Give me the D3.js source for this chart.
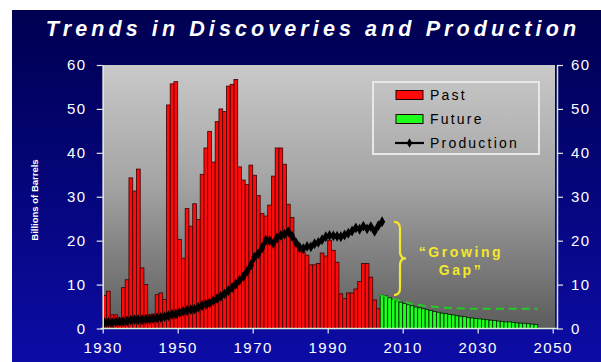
<!DOCTYPE html>
<html>
<head>
<meta charset="utf-8">
<script src="https://cdn.jsdelivr.net/npm/d3@7"></script>
<style>
  html, body { margin: 0; padding: 0; background: #ffffff; }
  svg { display: block; }
</style>
</head>
<body>
<svg id="chart" width="601" height="362"></svg>
<script>
// ---- Data (billions of barrels per year) ----
const pastStart = 1930;
const pastDiscoveries = [
  7.5, 8.5, 3.1, 3.1, 2.4, 9.3, 11.1, 34.3, 31.3, 36.3,      // 1930-1939
  13.8, 10.0, 3.1, 3.3, 7.7, 8.1, 6.6, 50.9, 55.7, 56.2,     // 1940-1949
  20.3, 16.0, 27.3, 23.3, 28.4, 24.8, 35.1, 41.1, 44.9, 37.9, // 1950-1959
  47.1, 50.0, 49.4, 55.2, 55.6, 56.7, 36.8, 33.8, 32.8, 37.2, // 1960-1969
  34.9, 30.3, 26.2, 25.6, 28.1, 34.7, 41.1, 41.1, 37.4, 28.3, // 1970-1979
  25.3, 20.1, 17.6, 17.4, 16.7, 14.5, 14.5, 14.8, 17.2, 16.5, // 1980-1989
  20.1, 17.8, 15.1, 7.9, 6.8, 8.1, 8.1, 9.0, 10.7, 14.8,      // 1990-1999
  14.8, 11.7, 6.5, 4.5                                        // 2000-2003
];
const futureStart = 2004;
const futureDiscoveries = [
  7.6, 7.4, 7.0, 6.6, 6.3, 6.0, 5.7, 5.4, 5.2, 4.9,  // 2004-2013
  4.7, 4.5, 4.3, 4.1, 3.9, 3.7, 3.5, 3.4, 3.2, 3.1,  // 2014-2023
  2.9, 2.8, 2.7, 2.5, 2.4, 2.3, 2.2, 2.1, 2.0, 1.9,  // 2024-2033
  1.8, 1.7, 1.6, 1.5, 1.5, 1.4, 1.3, 1.2, 1.2, 1.1,  // 2034-2043
  1.0, 0.9                                           // 2044-2045
];
const productionStart = 1930;
const production = [
  1.3, 1.4, 1.3, 1.5, 1.5, 1.6, 1.7, 1.9, 2.0, 2.0,       // 1930-1939
  2.0, 2.1, 2.1, 2.2, 2.4, 2.5, 2.7, 2.9, 3.2, 3.3,       // 1940-1949
  3.6, 3.9, 4.1, 4.3, 4.4, 4.8, 5.2, 5.5, 5.8, 6.3,       // 1950-1959
  6.8, 7.3, 7.9, 8.6, 9.3, 10.1, 11.0, 11.8, 13.0, 14.4,  // 1960-1969
  16.3, 17.0, 18.4, 20.1, 20.0, 19.4, 20.6, 21.2, 21.5, 22.0, // 1970-1979
  21.0, 19.6, 18.5, 18.2, 18.7, 18.6, 19.3, 19.6, 20.2, 20.9, // 1980-1989
  21.2, 21.1, 21.0, 20.9, 21.3, 21.7, 22.2, 22.9, 22.6, 23.3, // 1990-1999
  22.7, 23.2, 22.1, 23.4, 24.3                                // 2000-2004
];
// Projected production outlook (dashed)
const outlookYears = [2004, 2008, 2012, 2016, 2020, 2024, 2028, 2046];
const outlookValues = [7.6, 6.6, 5.7, 5.1, 4.8, 4.6, 4.5, 4.5];

const yTicks = [0, 10, 20, 30, 40, 50, 60];
const xTicks = [1930, 1950, 1970, 1990, 2010, 2030, 2050];
const legendItems = ["Past", "Future", "Production"];

// ---- Layout ----
const svg = d3.select("#chart");
const W = 601, H = 362;
const plot = { left: 102.7, right: 555, top: 65, bottom: 328.5 };

const x = d3.scaleLinear().domain([1930, 2050]).range([102.7, 552.7]);
const y = d3.scaleLinear().domain([0, 60]).range([plot.bottom, plot.top]);

const defs = svg.append("defs");
const bgGrad = defs.append("linearGradient").attr("id", "bgGrad")
  .attr("x1", 0).attr("y1", 0).attr("x2", 0).attr("y2", 1);
bgGrad.append("stop").attr("offset", "0%").attr("stop-color", "#000052");
bgGrad.append("stop").attr("offset", "12%").attr("stop-color", "#00005a");
bgGrad.append("stop").attr("offset", "100%").attr("stop-color", "#0c0ca6");

const plotGrad = defs.append("linearGradient").attr("id", "plotGrad")
  .attr("x1", 0).attr("y1", 0).attr("x2", 0).attr("y2", 1);
plotGrad.append("stop").attr("offset", "0%").attr("stop-color", "#c9c9c9");
plotGrad.append("stop").attr("offset", "45%").attr("stop-color", "#a4a4a4");
plotGrad.append("stop").attr("offset", "100%").attr("stop-color", "#5c5c5c");

// Blue slide background with white margin at top/left
svg.append("rect").attr("x", 12).attr("y", 10).attr("width", W - 12).attr("height", H - 10)
  .attr("fill", "url(#bgGrad)");

// Title
svg.append("text")
  .attr("x", 313).attr("y", 36)
  .attr("text-anchor", "middle")
  .attr("fill", "#ffffff")
  .attr("font-family", "'Liberation Sans', Arial, sans-serif")
  .attr("font-size", 21.5).attr("font-weight", "bold").attr("font-style", "italic")
  .attr("letter-spacing", 4.1)
  .text("Trends in Discoveries and Production");

// Plot area
svg.append("rect")
  .attr("x", plot.left).attr("y", plot.top)
  .attr("width", plot.right - plot.left).attr("height", plot.bottom - plot.top)
  .attr("fill", "url(#plotGrad)");

// Past discovery bars
svg.append("g").selectAll("rect")
  .data(pastDiscoveries)
  .join("rect")
  .attr("x", (d, i) => x(pastStart + i))
  .attr("width", (d, i) => x(pastStart + i + 1) - x(pastStart + i))
  .attr("y", d => y(d))
  .attr("height", d => y(0) - y(d))
  .attr("fill", "#ff0a0a")
  .attr("stroke", "#3a0000")
  .attr("stroke-width", 0.8);

// Future discovery bars
svg.append("g").selectAll("rect")
  .data(futureDiscoveries)
  .join("rect")
  .attr("x", (d, i) => x(futureStart + i))
  .attr("width", (d, i) => x(futureStart + i + 1) - x(futureStart + i))
  .attr("y", d => y(d))
  .attr("height", d => y(0) - y(d))
  .attr("fill", "#1cff1c")
  .attr("stroke", "#002000")
  .attr("stroke-width", 0.8);

// Outlook dashed line
svg.append("path")
  .datum(outlookYears.map((yr, i) => [yr, outlookValues[i]]))
  .attr("fill", "none")
  .attr("stroke", "#22cc22")
  .attr("stroke-width", 2)
  .attr("stroke-dasharray", "8,5")
  .attr("d", d3.line().x(d => x(d[0])).y(d => y(d[1])));

// Production line with diamond markers
const prodPts = production.map((v, i) => [productionStart + i + 0.5, v]);
svg.append("path")
  .datum(prodPts)
  .attr("fill", "none")
  .attr("stroke", "#000000")
  .attr("stroke-width", 4)
  .attr("stroke-linejoin", "round")
  .attr("d", d3.line().x(d => x(d[0])).y(d => y(d[1])));
const diamond = d3.symbol().type(d3.symbolDiamond).size(34);
svg.append("g").selectAll("path")
  .data(prodPts)
  .join("path")
  .attr("transform", d => `translate(${x(d[0])},${y(d[1])})`)
  .attr("d", diamond)
  .attr("fill", "#000000");

// Axes
const axisFont = "'Liberation Sans', Arial, sans-serif";
function styleAxis(g, lineColor) {
  g.select(".domain").attr("stroke", lineColor).attr("stroke-width", 1.5);
  g.selectAll(".tick line").attr("stroke", "#e8e8e8").attr("stroke-width", 1.2);
  g.selectAll(".tick text")
    .attr("fill", "#ffffff")
    .attr("font-family", axisFont)
    .attr("font-size", 15)
    .attr("letter-spacing", 1.5);
}

const yLeft = svg.append("g")
  .attr("transform", `translate(${plot.left},0)`)
  .call(d3.axisLeft(y).tickValues(yTicks).tickSize(6).tickPadding(10).tickSizeOuter(0));
styleAxis(yLeft, "#e6e6e6");

const yRight = svg.append("g")
  .attr("transform", `translate(557,0)`)
  .call(d3.axisRight(y).tickValues(yTicks).tickSize(6).tickPadding(8).tickSizeOuter(0));
styleAxis(yRight, "#cfe8cf");

const xAxis = svg.append("g")
  .attr("transform", `translate(0,${plot.bottom})`)
  .call(d3.axisBottom(x).tickValues(xTicks).tickFormat(d3.format("d")).tickSize(5).tickPadding(9).tickSizeOuter(0));
styleAxis(xAxis, "#d8efd8");
xAxis.select(".domain").attr("d", `M${plot.left - 2},0H${plot.right + 3}`);

// Y axis title
svg.append("text")
  .attr("transform", "translate(38,200) rotate(-90)")
  .attr("text-anchor", "middle")
  .attr("fill", "#ffffff")
  .attr("font-family", axisFont)
  .attr("font-size", 9.5).attr("font-weight", "bold")
  .text("Billions of Barrels");

// Legend
const legend = svg.append("g");
legend.append("rect")
  .attr("x", 373).attr("y", 82).attr("width", 166).attr("height", 72)
  .attr("fill", "none").attr("stroke", "#e8e8e8").attr("stroke-width", 2);
const legendY = [95, 119, 143];
const swatchColors = ["#ff0a0a", "#1cff1c"];
legendItems.forEach((name, i) => {
  const cy = legendY[i];
  if (i < 2) {
    legend.append("rect")
      .attr("x", 396).attr("y", cy - 4.5).attr("width", 27).attr("height", 9)
      .attr("fill", swatchColors[i]).attr("stroke", "#200000").attr("stroke-width", 1);
  } else {
    legend.append("line")
      .attr("x1", 395).attr("x2", 424).attr("y1", cy).attr("y2", cy)
      .attr("stroke", "#000").attr("stroke-width", 2.2);
    legend.append("path")
      .attr("transform", `translate(409.5,${cy})`)
      .attr("d", d3.symbol().type(d3.symbolDiamond).size(26))
      .attr("fill", "#000");
  }
  legend.append("text")
    .attr("x", 430).attr("y", cy + 5)
    .attr("fill", "#000000")
    .attr("font-family", axisFont)
    .attr("font-size", 14)
    .attr("letter-spacing", 2.2)
    .text(name);
});

// "Growing Gap" brace between latest production and first future discovery value
const gapTop = y(production[production.length - 1]);
const gapBottom = y(futureDiscoveries[0]);
const gapMid = (gapTop + gapBottom) / 2;
const bx = 400;
svg.append("path")
  .attr("fill", "none")
  .attr("stroke", "#f4e82a")
  .attr("stroke-width", 2.2)
  .attr("d", `M${bx - 6},${gapTop} Q${bx},${gapTop} ${bx},${gapTop + 7}
              L${bx},${gapMid - 7} Q${bx},${gapMid} ${bx + 6},${gapMid}
              Q${bx},${gapMid} ${bx},${gapMid + 7}
              L${bx},${gapBottom - 7} Q${bx},${gapBottom} ${bx - 6},${gapBottom}`);
const gapText = svg.append("text")
  .attr("fill", "#f4e82a")
  .attr("font-family", axisFont)
  .attr("font-size", 14).attr("font-weight", "bold")
  .attr("letter-spacing", 2.6)
  .attr("text-anchor", "middle");
gapText.append("tspan").attr("x", 461).attr("y", 257).text("\u201CGrowing");
gapText.append("tspan").attr("x", 461).attr("y", 275).text("Gap\u201D");
</script>
</body>
</html>
